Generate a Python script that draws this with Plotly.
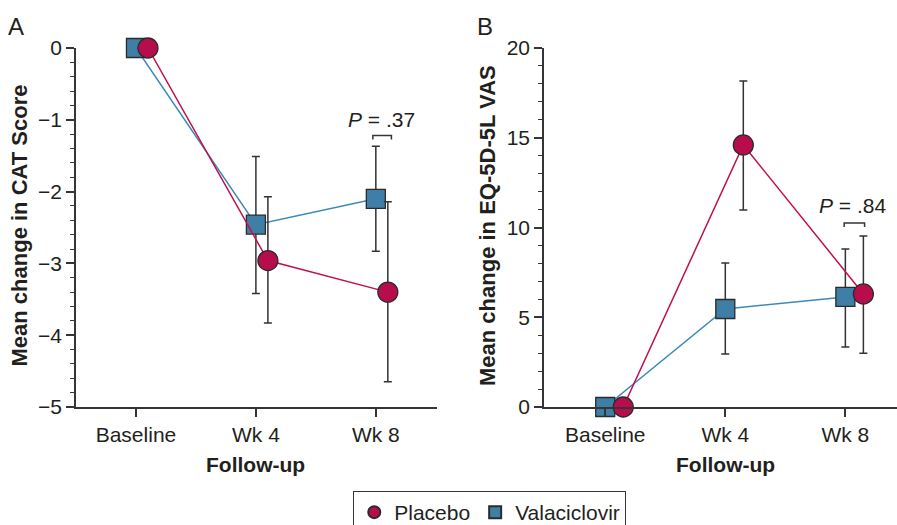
import plotly.graph_objects as go

# ---------------- data ----------------
categories = ["Baseline", "Wk 4", "Wk 8"]
cat_pos = [0, 1, 2]

cat_mean_placebo = [0, -2.96, -3.40]
cat_lo_placebo = [0, -3.83, -4.65]
cat_hi_placebo = [0, -2.07, -2.14]
cat_mean_vala = [0, -2.46, -2.10]
cat_lo_vala = [0, -3.42, -2.83]
cat_hi_vala = [0, -1.51, -1.37]

vas_mean_placebo = [0, 14.6, 6.3]
vas_lo_placebo = [0, 10.97, 3.0]
vas_hi_placebo = [0, 18.16, 9.53]
vas_mean_vala = [0, 5.46, 6.13]
vas_lo_vala = [0, 2.95, 3.34]
vas_hi_vala = [0, 8.02, 8.80]

p_text_a = "<i>P</i> = .37"
p_text_b = "<i>P</i> = .84"

# ---------------- style ----------------
FONT = "Liberation Sans, Arial, Helvetica, sans-serif"
TXT = "#231f20"
AX = "#353535"
RED_LINE = "#c0104f"
RED_FILL = "#b80d4d"
BLUE_LINE = "#3d8ab8"
BLUE_FILL = "#3f7fa7"
ERR = "#333333"
OFF_A = 0.10
OFF_B = 0.15
TICK_SIZE = 21
TITLE_SIZE = 21
YTITLE_SIZE = 22


def err(mean, lo, hi):
    return dict(type="data", symmetric=False,
                array=[h - m for h, m in zip(hi, mean)],
                arrayminus=[m - l for m, l in zip(mean, lo)],
                color=ERR, thickness=1.5, width=4)


def marker(sym, fill):
    return dict(symbol=sym, size=19 if sym == "square" else 20,
                color=fill, line=dict(color="#2b2b2b", width=1.3))


def trace(x, mean, lo, hi, name, sym, fill, line, xa, ya):
    return go.Scatter(
        x=x, y=mean, name=name, mode="lines+markers",
        line=dict(color=line, width=1.5),
        marker=marker(sym, fill),
        error_y=err(mean, lo, hi), xaxis=xa, yaxis=ya,
        showlegend=False, cliponaxis=False,
    )


fig = go.Figure()
fig.add_trace(trace(cat_pos, cat_mean_vala, cat_lo_vala, cat_hi_vala,
                    "Valaciclovir", "square", BLUE_FILL, BLUE_LINE, "x", "y"))
fig.add_trace(trace([p + OFF_A for p in cat_pos], cat_mean_placebo, cat_lo_placebo,
                    cat_hi_placebo, "Placebo", "circle", RED_FILL, RED_LINE, "x", "y"))
fig.add_trace(trace(cat_pos, vas_mean_vala, vas_lo_vala, vas_hi_vala,
                    "Valaciclovir", "square", BLUE_FILL, BLUE_LINE, "x2", "y2"))
fig.add_trace(trace([p + OFF_B for p in cat_pos], vas_mean_placebo, vas_lo_placebo,
                    vas_hi_placebo, "Placebo", "circle", RED_FILL, RED_LINE, "x2", "y2"))

# legend-only entries (markers without lines)
fig.add_trace(go.Scatter(x=[None], y=[None], mode="markers", name="Placebo",
                         marker=marker("circle", RED_FILL), legendrank=1))
fig.add_trace(go.Scatter(x=[None], y=[None], mode="markers", name="Valaciclovir",
                         marker=marker("square", BLUE_FILL), legendrank=2))

W, H = 897, 525
ydom = [1 - 407 / H, 1 - 48 / H]

common_x = dict(tickvals=cat_pos, ticktext=categories, showline=True, linecolor=AX,
                linewidth=1.5, ticks="outside", ticklen=8, tickcolor=AX, tickwidth=1.5,
                showgrid=False, zeroline=False, automargin=False,
                tickfont=dict(size=TICK_SIZE, color=TXT, family=FONT))
common_y = dict(showline=True, linecolor=AX, linewidth=1.5, ticks="outside",
                ticklen=8, tickcolor=AX, tickwidth=1.5, showgrid=False, zeroline=False,
                automargin=False,
                tickfont=dict(size=TICK_SIZE, color=TXT, family=FONT), domain=ydom)

fig.update_layout(
    width=W, height=H,
    margin=dict(l=0, r=0, t=0, b=0, pad=0, autoexpand=False),
    paper_bgcolor="white", plot_bgcolor="white",
    font=dict(family=FONT, color=TXT, size=TICK_SIZE),
    xaxis=dict(common_x, domain=[76 / W, 437 / W], range=[-0.5, 2.51], anchor="y"),
    yaxis=dict(common_y, range=[-5, 0], tickvals=[0, -1, -2, -3, -4, -5], anchor="x",
               minor=dict(ticks="outside", dtick=0.2, ticklen=4, tickcolor=AX, tickwidth=1.2)),
    xaxis2=dict(common_x, domain=[544 / W, 1.0], range=[-0.51, 2.43], anchor="y2"),
    yaxis2=dict(common_y, range=[0, 20], tickvals=[0, 5, 10, 15, 20], anchor="x2",
                minor=dict(ticks="outside", dtick=1, ticklen=4, tickcolor=AX, tickwidth=1.2)),
    legend=dict(orientation="h", x=0.546, xanchor="center", y=1 - 491 / H, yanchor="top",
                bordercolor=AX, borderwidth=1, font=dict(size=TICK_SIZE, color=TXT),
                itemsizing="constant", traceorder="normal"),
)


def note(text, x, y, xref="paper", yref="paper", size=TITLE_SIZE, angle=0):
    return dict(text=text, x=x, y=y, xref=xref, yref=yref, showarrow=False,
                xanchor="center", yanchor="middle", textangle=angle,
                font=dict(size=size, color=TXT, family=FONT))


ycen = 1 - 226 / H
ann = [
    note("A", 16 / W, 1 - 26 / H, size=24),
    note("B", 485 / W, 1 - 26 / H, size=24),
    note("<b>Mean change in CAT Score</b>", 18.5 / W, ycen, size=YTITLE_SIZE, angle=-90),
    note("<b>Mean change in EQ-5D-5L VAS</b>", 487 / W, ycen, size=YTITLE_SIZE, angle=-90),
    note("<b>Follow-up</b>", 1, 1 - 464 / H, xref="x"),
    note("<b>Follow-up</b>", 1, 1 - 464 / H, xref="x2"),
    note(p_text_a, 2.05, -1.0, xref="x", yref="y", size=TICK_SIZE),
    note(p_text_b, 2.06, 11.2, xref="x2", yref="y2", size=TICK_SIZE),
]
fig.update_layout(annotations=ann)


# significance brackets
def bracket(xa, ya, x0, x1, y, drop):
    return dict(type="path", xref=xa, yref=ya,
                path=f"M {x0},{y - drop} L {x0},{y} L {x1},{y} L {x1},{y - drop}",
                line=dict(color=AX, width=1.5))


fig.update_layout(shapes=[
    bracket("x", "y", 1.975, 2.13, -1.22, 0.055),
    bracket("x2", "y2", 1.99, 2.16, 10.25, 0.22),
])

fig.write_html("out.html")
